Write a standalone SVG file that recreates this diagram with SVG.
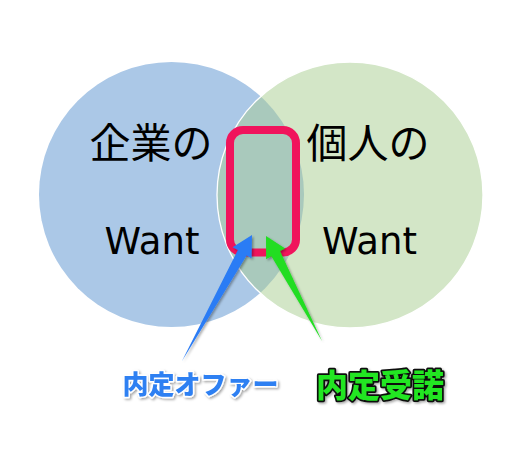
<svg xmlns="http://www.w3.org/2000/svg" width="528" height="473" viewBox="0 0 528 473">
  <style>
    .jp { font-family: "Noto Sans CJK JP", "DejaVu Sans", sans-serif; font-size: 41px; fill: #000; text-anchor: middle; }
    .en { font-family: "DejaVu Sans", "Noto Sans CJK JP", sans-serif; font-size: 37px; fill: #000; text-anchor: middle; }
    .lbl { font-family: "Noto Sans CJK JP", sans-serif; font-weight: 900; text-anchor: middle; paint-order: stroke; stroke-linejoin: round; }
  </style>
  <defs>
    <clipPath id="clipL"><circle cx="171.5" cy="194.5" r="132.5"/></clipPath>
    <filter id="sh" x="-20%" y="-20%" width="140%" height="140%">
      <feDropShadow dx="1.5" dy="1.5" stdDeviation="1" flood-color="#000" flood-opacity="0.35"/>
    </filter>
  </defs>
  <rect width="528" height="473" fill="#fff"/>

  <g id="company-want">
    <circle cx="171.5" cy="194.5" r="132.5" fill="#abc8e7"/>
  </g>
  <g id="individual-want">
    <circle cx="350" cy="195" r="133" fill="#d3e6c7"/>
    <circle cx="350" cy="195" r="133" fill="#a9c9bc" clip-path="url(#clipL)"/>
    <circle cx="350" cy="195" r="133" fill="none" stroke="#fff" stroke-width="1.3"/>
  </g>
  <g id="company-text">
    <text class="jp" x="151" y="158">企業の</text>
    <text class="en" x="152" y="254">Want</text>
  </g>
  <g id="individual-text">
    <text class="jp" x="368" y="158">個人の</text>
    <text class="en" x="369.5" y="254">Want</text>
  </g>
  <g id="overlap">
    <rect x="230" y="130" width="66" height="122.5" rx="13" ry="13" fill="none" stroke="#f0145c" stroke-width="8"/>
  </g>

  <g id="connectors" filter="url(#sh)">
    <polygon points="252,235 251.6,258.5 246.7,255.5 182,361 237.9,250.1 232.6,247.2" fill="#2b7cf5"/>
    <polygon points="266,236 266.1,259.3 271.4,256.2 322,341 280,251.1 285.2,248.4" fill="#22dd22"/>
  </g>

  <g id="label-offer" filter="url(#sh)">
    <text class="lbl" x="200.5" y="394" font-size="26" fill="#2e80f2" stroke="#fff" stroke-width="3">内定オファー</text>
  </g>
  <g id="label-accept" filter="url(#sh)">
    <text class="lbl" x="380" y="396.5" font-size="32" fill="#22e622" stroke="#111" stroke-width="3.5">内定受諾</text>
  </g>
</svg>
